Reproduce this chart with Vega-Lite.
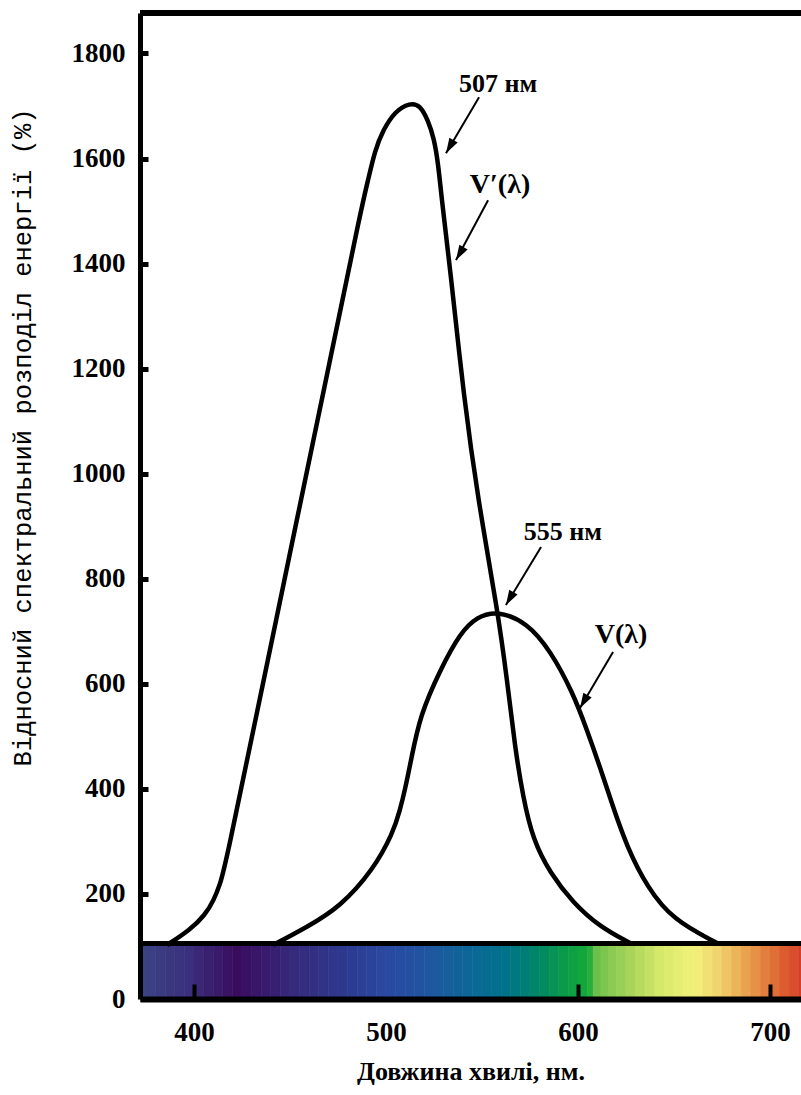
{
  "$schema": "https://vega.github.io/schema/vega-lite/v6.json",
  "autosize": "none",
  "padding": {"left": 140, "top": 13, "right": 0, "bottom": 96},
  "width": 661,
  "height": 986,
  "background": "white",
  "view": {"stroke": null},
  "datasets": {
    "bands": [
      {"lam": 372, "lam2": 375}, {"lam": 375, "lam2": 380}, {"lam": 380, "lam2": 385}, {"lam": 385, "lam2": 390},
      {"lam": 390, "lam2": 395}, {"lam": 395, "lam2": 400}, {"lam": 400, "lam2": 405}, {"lam": 405, "lam2": 410},
      {"lam": 410, "lam2": 415}, {"lam": 415, "lam2": 420}, {"lam": 420, "lam2": 425}, {"lam": 425, "lam2": 430},
      {"lam": 430, "lam2": 435}, {"lam": 435, "lam2": 440}, {"lam": 440, "lam2": 445}, {"lam": 445, "lam2": 450},
      {"lam": 450, "lam2": 455}, {"lam": 455, "lam2": 460}, {"lam": 460, "lam2": 465}, {"lam": 465, "lam2": 470},
      {"lam": 470, "lam2": 475}, {"lam": 475, "lam2": 480}, {"lam": 480, "lam2": 485}, {"lam": 485, "lam2": 490},
      {"lam": 490, "lam2": 495}, {"lam": 495, "lam2": 500}, {"lam": 500, "lam2": 505}, {"lam": 505, "lam2": 510},
      {"lam": 510, "lam2": 515}, {"lam": 515, "lam2": 520}, {"lam": 520, "lam2": 525}, {"lam": 525, "lam2": 530},
      {"lam": 530, "lam2": 535}, {"lam": 535, "lam2": 540}, {"lam": 540, "lam2": 545}, {"lam": 545, "lam2": 550},
      {"lam": 550, "lam2": 555}, {"lam": 555, "lam2": 560}, {"lam": 560, "lam2": 565}, {"lam": 565, "lam2": 570},
      {"lam": 570, "lam2": 575}, {"lam": 575, "lam2": 580}, {"lam": 580, "lam2": 585}, {"lam": 585, "lam2": 590},
      {"lam": 590, "lam2": 595}, {"lam": 595, "lam2": 600}, {"lam": 600, "lam2": 605}, {"lam": 605, "lam2": 608},
      {"lam": 608, "lam2": 612}, {"lam": 612, "lam2": 616}, {"lam": 616, "lam2": 620}, {"lam": 620, "lam2": 625},
      {"lam": 625, "lam2": 630}, {"lam": 630, "lam2": 635}, {"lam": 635, "lam2": 640}, {"lam": 640, "lam2": 645},
      {"lam": 645, "lam2": 650}, {"lam": 650, "lam2": 655}, {"lam": 655, "lam2": 660}, {"lam": 660, "lam2": 665},
      {"lam": 665, "lam2": 670}, {"lam": 670, "lam2": 675}, {"lam": 675, "lam2": 680}, {"lam": 680, "lam2": 685},
      {"lam": 685, "lam2": 690}, {"lam": 690, "lam2": 695}, {"lam": 695, "lam2": 700}, {"lam": 700, "lam2": 705},
      {"lam": 705, "lam2": 710}, {"lam": 710, "lam2": 715}, {"lam": 715, "lam2": 717}
    ],
    "curves": [
      {"curve": "V′", "lam": 386.0, "val": 102.8},
      {"curve": "V′", "lam": 397.9, "val": 131.3},
      {"curve": "V′", "lam": 405.8, "val": 159.9},
      {"curve": "V′", "lam": 410.4, "val": 188.4},
      {"curve": "V′", "lam": 413.6, "val": 218.9},
      {"curve": "V′", "lam": 416.2, "val": 251.2},
      {"curve": "V′", "lam": 434.4, "val": 572.9},
      {"curve": "V′", "lam": 452.6, "val": 894.6},
      {"curve": "V′", "lam": 470.9, "val": 1216.2},
      {"curve": "V′", "lam": 487.5, "val": 1511.2},
      {"curve": "V′", "lam": 490.7, "val": 1558.8},
      {"curve": "V′", "lam": 494.3, "val": 1615.9},
      {"curve": "V′", "lam": 498.5, "val": 1654},
      {"curve": "V′", "lam": 504.7, "val": 1690},
      {"curve": "V′", "lam": 512.5, "val": 1706},
      {"curve": "V′", "lam": 517.7, "val": 1702},
      {"curve": "V′", "lam": 521.9, "val": 1673},
      {"curve": "V′", "lam": 525.0, "val": 1638.8},
      {"curve": "V′", "lam": 527.2, "val": 1591.2},
      {"curve": "V′", "lam": 529.1, "val": 1520.7},
      {"curve": "V′", "lam": 533.4, "val": 1393.2},
      {"curve": "V′", "lam": 540.7, "val": 1140.1},
      {"curve": "V′", "lam": 548.0, "val": 949.8},
      {"curve": "V′", "lam": 558.4, "val": 734.7},
      {"curve": "V′", "lam": 563.1, "val": 607.2},
      {"curve": "V′", "lam": 567.2, "val": 479.6},
      {"curve": "V′", "lam": 571.4, "val": 384.5},
      {"curve": "V′", "lam": 576.6, "val": 302.6},
      {"curve": "V′", "lam": 585.5, "val": 239.8},
      {"curve": "V′", "lam": 597.5, "val": 182.7},
      {"curve": "V′", "lam": 611.5, "val": 137},
      {"curve": "V′", "lam": 627.1, "val": 106.6},
      {"curve": "V", "lam": 441.2, "val": 102.8},
      {"curve": "V", "lam": 458.9, "val": 137},
      {"curve": "V", "lam": 476.1, "val": 175.1},
      {"curve": "V", "lam": 493.3, "val": 245.5},
      {"curve": "V", "lam": 503.7, "val": 316},
      {"curve": "V", "lam": 507.3, "val": 359.7},
      {"curve": "V", "lam": 509.9, "val": 397.8},
      {"curve": "V", "lam": 513.1, "val": 454.9},
      {"curve": "V", "lam": 517.8, "val": 540.5},
      {"curve": "V", "lam": 528.2, "val": 626.2},
      {"curve": "V", "lam": 538.6, "val": 696.6},
      {"curve": "V", "lam": 547.4, "val": 728},
      {"curve": "V", "lam": 558.4, "val": 739},
      {"curve": "V", "lam": 573.5, "val": 716.5},
      {"curve": "V", "lam": 585.5, "val": 664.3},
      {"curve": "V", "lam": 597.5, "val": 582.4},
      {"curve": "V", "lam": 604.7, "val": 512},
      {"curve": "V", "lam": 611.5, "val": 441.6},
      {"curve": "V", "lam": 618.3, "val": 365.4},
      {"curve": "V", "lam": 625.6, "val": 289.3},
      {"curve": "V", "lam": 636.0, "val": 213.2},
      {"curve": "V", "lam": 649.5, "val": 150.4},
      {"curve": "V", "lam": 672.5, "val": 106.6}
    ],
    "arrows": [
      {"lam": 548.5, "val": 1716.8, "lam2": 531.3, "val2": 1610.2},
      {"lam": 553.2, "val": 1520.7, "lam2": 536.5, "val2": 1406.6},
      {"lam": 580.8, "val": 860.3, "lam2": 562.5, "val2": 749.9},
      {"lam": 618.3, "val": 660.5, "lam2": 601.1, "val2": 553.9}
    ],
    "labels_nm": [
      {"lam": 558.4, "val": 1741.5, "label": "507 нм"},
      {"lam": 592.2, "val": 888.8, "label": "555 нм"}
    ],
    "labels_v": [
      {"lam": 559.4, "val": 1549.3, "label": "V′(λ)"},
      {"lam": 622.5, "val": 692.8, "label": "V(λ)"}
    ]
  },
  "layer": [
    {
      "data": {"name": "bands"},
      "mark": {"type": "rect", "strokeWidth": 0.6},
      "encoding": {
        "x": {"field": "lam", "type": "quantitative", "scale": {"domain": [371.9, 716.2], "nice": false, "zero": false},
              "title": "Довжина хвилі, нм."},
        "x2": {"field": "lam2"},
        "y": {"datum": 0, "type": "quantitative", "scale": {"domain": [0, 1877], "nice": false}, "title": "Відносний спектральний розподіл енергії (%)"},
        "y2": {"datum": 106},
        "fill": {"field": "lam", "type": "quantitative", "legend": null,
                 "scale": {"type": "linear", "interpolate": "rgb",
                   "domain": [372, 395, 420, 450, 480, 500, 520, 540, 560, 575, 590, 600, 605, 608, 615, 625, 640, 658, 670, 680, 692, 705, 717],
                   "range": ["#3b4283", "#3a2f7c", "#3a0c5e", "#362a7c", "#2c3c92", "#2a4aa2", "#1f56a0", "#0e6698", "#00728a", "#00846a", "#0a9a4a", "#12a63c", "#28ae3c", "#6cc04a", "#88ca52", "#a8d45a", "#d4e86a", "#f2f27a", "#f0d470", "#ecb458", "#e48a42", "#dc5c30", "#d43a26"]}},
        "stroke": {"field": "lam", "type": "quantitative", "legend": null,
                 "scale": {"type": "linear", "interpolate": "rgb",
                   "domain": [372, 395, 420, 450, 480, 500, 520, 540, 560, 575, 590, 600, 605, 608, 615, 625, 640, 658, 670, 680, 692, 705, 717],
                   "range": ["#3b4283", "#3a2f7c", "#3a0c5e", "#362a7c", "#2c3c92", "#2a4aa2", "#1f56a0", "#0e6698", "#00728a", "#00846a", "#0a9a4a", "#12a63c", "#28ae3c", "#6cc04a", "#88ca52", "#a8d45a", "#d4e86a", "#f2f27a", "#f0d470", "#ecb458", "#e48a42", "#dc5c30", "#d43a26"]}}
      }
    },
    {
      "data": {"name": "bands"},
      "mark": {"type": "rule", "color": "black", "strokeWidth": 4},
      "encoding": {"y": {"datum": 106, "type": "quantitative"}}
    },
    {
      "data": {"name": "bands"},
      "mark": {"type": "rule", "color": "black", "strokeWidth": 5},
      "encoding": {"y": {"datum": 1877, "type": "quantitative"}}
    },
    {
      "data": {"name": "curves"},
      "mark": {"type": "line", "color": "black", "strokeWidth": 4.5, "interpolate": "basis"},
      "encoding": {
        "x": {"field": "lam", "type": "quantitative",
              "axis": {"values": [400, 500, 600, 700], "format": "d", "zindex": 2, "domainColor": "black", "domainWidth": 6,
                       "tickColor": "black", "tickWidth": 4, "tickSize": -15, "labelPadding": 35,
                       "tickOpacity": {"condition": {"test": "datum.value == 500", "value": 0}, "value": 1},
                       "labelFont": "Liberation Serif", "labelFontWeight": "bold", "labelFontSize": 27, "labelColor": "black",
                       "grid": false, "title": "Довжина хвилі, нм.", "titleFont": "Liberation Serif", "titleFontWeight": "bold",
                       "titleFontSize": 26, "titleColor": "black", "titleY": 80, "titleBaseline": "alphabetic"}},
        "y": {"field": "val", "type": "quantitative",
              "axis": {"values": [0, 200, 400, 600, 800, 1000, 1200, 1400, 1600, 1800], "format": "d", "zindex": 2, "domainColor": "black", "domainWidth": 5,
                       "tickColor": "black", "tickWidth": 5, "tickSize": -8, "labelPadding": 23,
                       "labelFont": "Liberation Serif", "labelFontWeight": "bold", "labelFontSize": 27, "labelColor": "black",
                       "grid": false, "title": "Відносний спектральний розподіл енергії (%)", "titleFont": "Liberation Mono",
                       "titleFontWeight": "normal", "titleFontSize": 25.5, "titleColor": "black", "titleAngle": -90,
                       "titleX": -118, "titleY": 424, "titleAlign": "center", "titleBaseline": "middle"}},
        "detail": {"field": "curve"}
      }
    },
    {
      "data": {"name": "arrows"},
      "mark": {"type": "rule", "color": "black", "strokeWidth": 2},
      "encoding": {
        "x": {"field": "lam", "type": "quantitative"},
        "y": {"field": "val", "type": "quantitative"},
        "x2": {"field": "lam2"},
        "y2": {"field": "val2"}
      }
    },
    {
      "data": {"name": "arrows"},
      "mark": {"type": "point", "shape": "M0,0L-0.32,1L0.32,1Z", "size": 900, "angle": 210, "filled": true, "color": "black", "opacity": 1},
      "encoding": {
        "x": {"field": "lam2", "type": "quantitative"},
        "y": {"field": "val2", "type": "quantitative"}
      }
    },
    {
      "data": {"name": "labels_nm"},
      "mark": {"type": "text", "font": "Liberation Serif", "fontWeight": "bold", "fontSize": 26, "color": "black", "align": "center", "baseline": "middle"},
      "encoding": {
        "x": {"field": "lam", "type": "quantitative"},
        "y": {"field": "val", "type": "quantitative"},
        "text": {"field": "label"}
      }
    },
    {
      "data": {"name": "labels_v"},
      "mark": {"type": "text", "font": "Liberation Serif", "fontWeight": "bold", "fontSize": 28, "color": "black", "align": "center", "baseline": "middle"},
      "encoding": {
        "x": {"field": "lam", "type": "quantitative"},
        "y": {"field": "val", "type": "quantitative"},
        "text": {"field": "label"}
      }
    }
  ]
}
